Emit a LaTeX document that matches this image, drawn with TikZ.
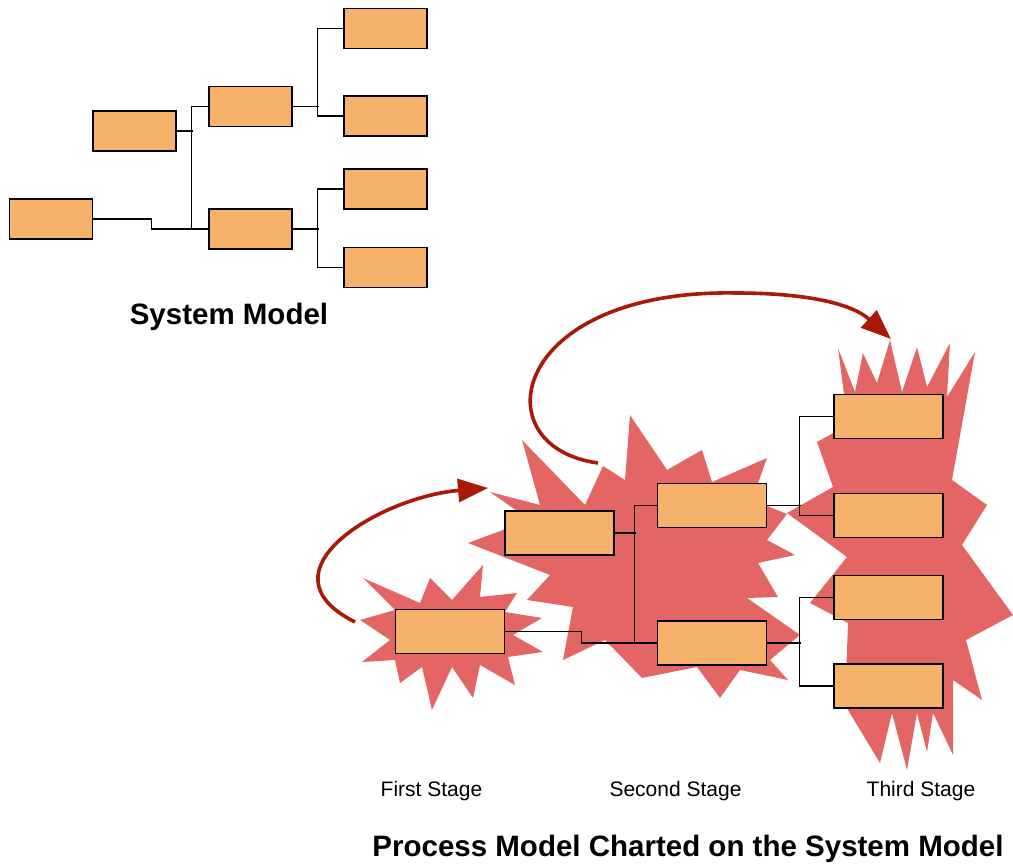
\documentclass[tikz,border=0pt]{standalone}
\usepackage{fontspec}
\setmainfont{Liberation Sans}
\usetikzlibrary{arrows.meta}
\definecolor{boxorange}{RGB}{246,178,107}
\definecolor{burstred}{RGB}{228,102,100}
\definecolor{flowred}{RGB}{170,24,8}
\tikzset{blk/.style={draw=black, line width=1.3pt, fill=boxorange, inner sep=0pt, minimum width=83pt, minimum height=40pt},
         bigblk/.style={blk, minimum width=109pt, minimum height=44pt},
         wire/.style={draw=black, line width=1.2pt},
         burst/.style={fill=burstred},
         flow/.style={draw=flowred, line width=3.6pt, -{Triangle[length=30pt,width=23pt]}},
         stagelbl/.style={font=\fontsize{21}{24}\selectfont},
         title/.style={font=\fontsize{29.5}{34}\selectfont\bfseries}}
\begin{document}
\begin{tikzpicture}[x=1pt,y=1pt]
  \useasboundingbox (0,0) rectangle (1013,867);
  \fill[burst] plot coordinates {(363,289) (420,264) (430,289) (452,267) (483,302) (480,270) (517,274) (505,255)
    (542,249) (513,232) (543,215) (508,210) (515,182) (480,202) (473,169) (452,200) (432,157) (422,200)
    (400,184) (395,207) (362,205) (390,227) (360,247) (395,257)} -- cycle;
  \fill[burst] plot coordinates {(522,427) (585,362) (603,401) (625,387) (630,452) (667,397) (702,417) (712,385)
    (767,409) (752,367) (787,353) (767,327) (795,312) (758,304) (778,270) (747,269) (800,232) (770,207)
    (788,187) (740,197) (720,169) (697,200) (642,189) (605,227) (563,207) (573,260) (527,267) (550,292)
    (468,324) (530,347) (490,375) (540,362)} -- cycle;
  \fill[burst] plot coordinates {(838,519) (855,475) (863,514) (877,484) (890,527) (902,475) (917,520) (927,480)
    (950,524) (947,470) (975,515) (952,387) (987,362) (962,322) (1013,252) (966,227) (982,167) (953,187)
    (953,112) (933,154) (927,115) (917,154) (907,97) (892,154) (880,104) (845,162) (848,244) (810,264)
    (847,310) (787,354) (833,380) (817,425) (848,442)} -- cycle;

  \node[blk] (A) at (51,648) {};
  \node[blk] (B) at (134.5,736) {};
  \node[blk] (C) at (250.5,760.5) {};
  \node[blk] (D) at (250.5,638) {};
  \node[blk] (E) at (385.5,838.5) {};
  \node[blk] (F) at (385.5,751) {};
  \node[blk] (G) at (385.5,678) {};
  \node[blk] (H) at (385.5,599.5) {};
  \path[wire] (A.east) -- ++(58,0) |- (D.west)
    (B.east) -- ++(16,0)
    (C.west) -- ++(-17,0) |- (D.west)
    (C.east) -- ++(26,0)
    (E.west) -- ++(-26,0) |- (F.west)
    (D.east) -- ++(26,0)
    (G.west) -- ++(-26,0) |- (H.west);
  \node[title] (sysname) at (229,550) {System Model};

  \node[bigblk] (P1) at (450,235.5) {};
  \node[bigblk] (P2) at (559.5,334) {};
  \node[bigblk] (P3) at (712,361.5) {};
  \node[bigblk] (P4) at (712,224) {};
  \node[bigblk] (Q1) at (888.5,450.5) {};
  \node[bigblk] (Q2) at (888.5,351.5) {};
  \node[bigblk] (Q3) at (888.5,269.5) {};
  \node[bigblk] (Q4) at (888.5,181) {};
  \path[wire] (P1.east) -- ++(76.5,0) |- (P4.west)
    (P2.east) -- ++(21,0)
    (P3.west) -- ++(-22.5,0) |- (P4.west)
    (P3.east) -- ++(33.5,0)
    (Q1.west) -- ++(-34,0) |- (Q2.west)
    (P4.east) -- ++(33.5,0)
    (Q3.west) -- ++(-34,0) |- (Q4.west);

  \coordinate (s1) at (355,245);
  \coordinate (e1) at (488,379);
  \coordinate (s2) at (598,404);
  \coordinate (arc2) at (736,574);
  \coordinate (e2) at (891,528);
  \draw[flow] (s1) .. controls (255,295) and (380,370) .. (e1);
  \draw[flow] (s2) .. controls (480,420) and (510,578) .. (arc2) .. controls (800,574) and (850,565) .. (e2);

  \node[stagelbl] (stage1) at (431.5,76) {First Stage};
  \node[stagelbl] (stage2) at (675.5,76) {Second Stage};
  \node[stagelbl] (stage3) at (921,76) {Third Stage};
  \node[title] (procname) at (688,18) {Process Model Charted on the System Model};
\end{tikzpicture}
\end{document}
